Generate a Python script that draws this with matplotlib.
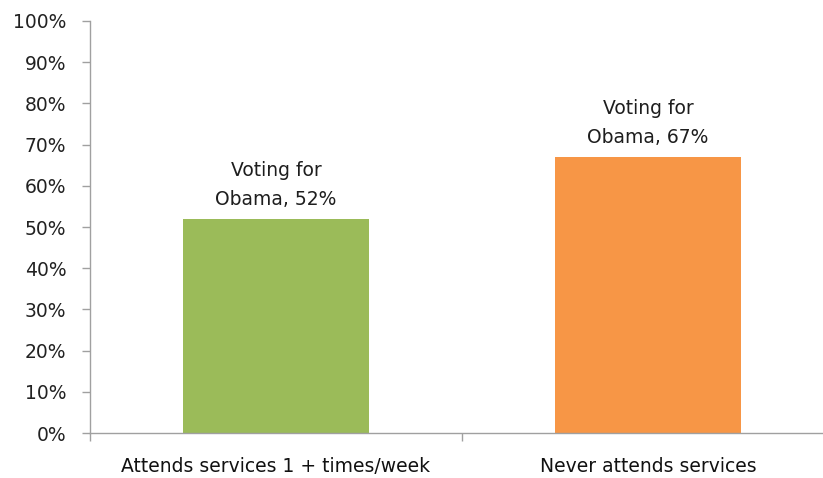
import matplotlib
matplotlib.use("Agg")
import matplotlib.pyplot as plt
from matplotlib.ticker import FuncFormatter, FixedLocator

categories = ["Attends services 1 + times/week", "Never attends services"]
values = [52, 67]
bar_labels = ["Voting for\nObama, 52%", "Voting for\nObama, 67%"]
colors = ["#9BBB59", "#F79646"]
y_ticks = list(range(0, 101, 10))

plt.rcParams["font.family"] = ["DejaVu Sans"]

fig = plt.figure(figsize=(8.23, 4.78), dpi=100)
ax = fig.add_axes([0.1094, 0.0941, 0.904, 0.862])

x = list(range(len(categories)))
ax.bar(x, values, width=0.5, color=colors, zorder=2)

for xi, v, lab in zip(x, values, bar_labels):
    ax.annotate(lab, xy=(xi, v), xytext=(0, 7), textcoords="offset points",
                ha="center", va="bottom", fontsize=13.5, color="#1e1e1e",
                linespacing=1.65)

ax.set_xlim(-0.5, len(categories) - 0.5)
ax.set_ylim(0, 100)
ax.set_yticks(y_ticks)
ax.yaxis.set_major_formatter(FuncFormatter(lambda v, p: f"{int(v)}%"))

# category boundaries carry the tick marks, names sit between them
ax.xaxis.set_major_locator(FixedLocator([-0.5, 0.5]))
ax.xaxis.set_major_formatter(FuncFormatter(lambda v, p: ""))
ax.set_xticks(x, minor=True)
ax.set_xticklabels(categories, minor=True)
ax.tick_params(axis="x", which="minor", length=0, pad=17, labelsize=13.5, labelcolor="#111111")
ax.tick_params(axis="x", which="major", length=6, color="#a0a0a0", width=1)
ax.tick_params(axis="y", length=6, color="#a0a0a0", width=1, pad=11,
               labelsize=13.5, labelcolor="#222222")

for s in ["top", "right"]:
    ax.spines[s].set_visible(False)
for s in ["left", "bottom"]:
    ax.spines[s].set_color("#a0a0a0")
    ax.spines[s].set_linewidth(1)

fig.savefig("out.png", dpi=100, facecolor="white")
